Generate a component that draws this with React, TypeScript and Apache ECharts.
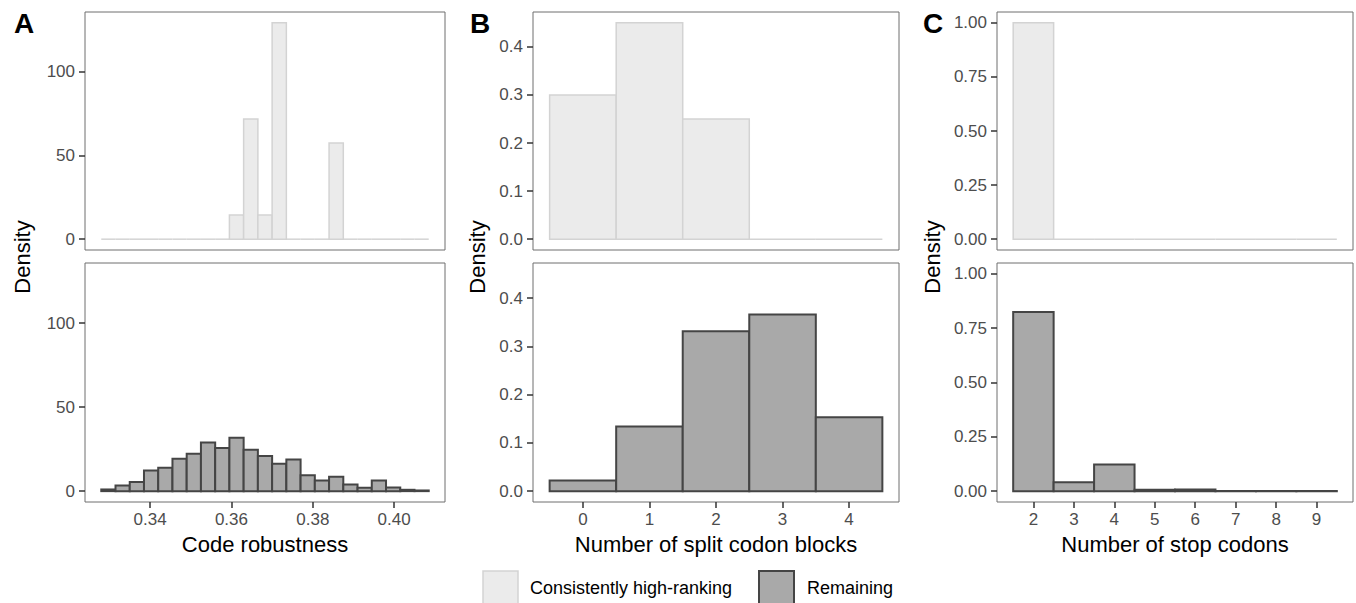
import React, { useEffect, useRef } from "react";
import * as echarts from "echarts";

// ---------- data ----------
// Panel A: code robustness histogram (bin centers, bin width 0.0035)
const robustBinWidth = 0.0035;
const robustCenters = [
  0.32975, 0.33325, 0.33675, 0.34025, 0.34375, 0.34725, 0.35075, 0.35425,
  0.35775, 0.36125, 0.36475, 0.36825, 0.37175, 0.37525, 0.37875, 0.38225,
  0.38575, 0.38925, 0.39275, 0.39625, 0.39975, 0.40325, 0.40675,
];
const robustHigh = [
  0, 0, 0, 0, 0, 0, 0, 0, 0, 14.4, 71.8, 14.4, 129.3, 0, 0, 0, 57.5, 0, 0, 0, 0, 0, 0,
];
const robustRemaining = [
  1.0, 3.4, 5.4, 12.3, 13.9, 19.3, 22.3, 29.0, 25.6, 31.8, 24.7, 20.9, 16.3, 18.9,
  9.5, 6.4, 8.5, 4.0, 2.0, 6.4, 2.2, 0.8, 0.4,
];
const robustTicks = [0.34, 0.36, 0.38, 0.4];
const robustYTicks = [0, 50, 100];

// Panel B: number of split codon blocks
const splitCats = [0, 1, 2, 3, 4];
const splitHigh = [0.3, 0.45, 0.25, 0, 0];
const splitRemaining = [0.022, 0.134, 0.331, 0.366, 0.153];
const splitYTicks = [0, 0.1, 0.2, 0.3, 0.4];

// Panel C: number of stop codons
const stopCats = [2, 3, 4, 5, 6, 7, 8, 9];
const stopHigh = [1.0, 0, 0, 0, 0, 0, 0, 0];
const stopRemaining = [0.825, 0.041, 0.123, 0.006, 0.007, 0.001, 0.001, 0.001];
const stopYTicks = [0, 0.25, 0.5, 0.75, 1.0];

const legendLabels = ["Consistently high-ranking", "Remaining"];
const xTitles = ["Code robustness", "Number of split codon blocks", "Number of stop codons"];

// ---------- styles ----------
const FONT = "'Liberation Sans', Arial, Helvetica, sans-serif";
const HIGH_FILL = "#EBEBEB";
const HIGH_STROKE = "#D3D3D3";
const REM_FILL = "#A9A9A9";
const REM_STROKE = "#454545";
const BORDER = "#6E6E6E";
const TICK = "#333333";
const TICK_TEXT = "#4D4D4D";

function renderHist(binWidth: number, fill: string, stroke: string, lw: number) {
  return (params: any, api: any) => {
    const c = api.value(0);
    const v = api.value(1);
    const p0 = api.coord([c - binWidth / 2, v]);
    const p1 = api.coord([c + binWidth / 2, 0]);
    if (!(v > 0)) {
      return {
        type: "line",
        shape: { x1: p0[0], y1: p1[1], x2: p1[0], y2: p1[1] },
        style: { stroke, lineWidth: lw },
      };
    }
    return {
      type: "rect",
      shape: { x: p0[0], y: p0[1], width: p1[0] - p0[0], height: p1[1] - p0[1] },
      style: { fill, stroke, lineWidth: lw },
    };
  };
}

export default function App() {
  const ref = useRef<HTMLDivElement>(null);

  useEffect(() => {
    if (!ref.current) return;
    const chart = echarts.init(ref.current, null, { renderer: "svg" });

    const cols = [
      { left: 85, width: 360 },
      { left: 533, width: 366 },
      { left: 997, width: 356 },
    ];
    const rows = [
      { top: 12, height: 238 },
      { top: 263, height: 239 },
    ];
    const grids: any[] = [];
    cols.forEach((c) =>
      rows.forEach((r) =>
        grids.push({
          left: c.left,
          width: c.width,
          top: r.top,
          height: r.height,
          show: true,
          borderColor: BORDER,
          borderWidth: 1,
          backgroundColor: "transparent",
          containLabel: false,
          outerBoundsMode: "none",
        })
      )
    );

    const xRanges = [
      [0.324, 0.4125],
      [-0.75, 4.75],
      [1.1, 9.9],
    ];
    const yRanges = [
      [-6.465, 135.77],
      [-0.0225, 0.4725],
      [-0.05, 1.05],
    ];
    const xTickVals = [robustTicks, splitCats, stopCats];
    const yTickVals = [robustYTicks, splitYTicks, stopYTicks];
    const xFmt = [
      (v: number) => v.toFixed(2),
      (v: number) => String(v),
      (v: number) => String(v),
    ];
    const yFmt = [
      (v: number) => String(v),
      (v: number) => v.toFixed(1),
      (v: number) => v.toFixed(2),
    ];

    const xAxes: any[] = [];
    const yAxes: any[] = [];
    for (let p = 0; p < 3; p++) {
      for (let r = 0; r < 2; r++) {
        const gi = p * 2 + r;
        const bottom = r === 1;
        xAxes.push({
          type: "value",
          gridIndex: gi,
          position: "bottom",
          min: xRanges[p][0],
          max: xRanges[p][1],
          axisLine: { show: true, onZero: false, lineStyle: { color: "rgba(0,0,0,0)" } },
          splitLine: { show: false },
          axisTick: {
            show: bottom,
            inside: false,
            length: 6,
            lineStyle: { color: TICK, width: 1.5 },
            customValues: xTickVals[p],
          },
          axisLabel: {
            show: bottom,
            margin: 9,
            color: TICK_TEXT,
            fontSize: 17,
            fontFamily: FONT,
            customValues: xTickVals[p],
            formatter: xFmt[p],
          },
        });
        yAxes.push({
          type: "value",
          gridIndex: gi,
          position: "left",
          min: yRanges[p][0],
          max: yRanges[p][1],
          axisLine: { show: true, onZero: false, lineStyle: { color: "rgba(0,0,0,0)" } },
          splitLine: { show: false },
          axisTick: {
            show: true,
            inside: false,
            length: 6,
            lineStyle: { color: TICK, width: 1.5 },
            customValues: yTickVals[p],
          },
          axisLabel: {
            show: true,
            margin: 10,
            color: TICK_TEXT,
            fontSize: 17,
            fontFamily: FONT,
            customValues: yTickVals[p],
            formatter: yFmt[p],
          },
        });
      }
    }

    const panelData = [
      { centers: robustCenters, w: robustBinWidth, high: robustHigh, rem: robustRemaining },
      { centers: splitCats, w: 1, high: splitHigh, rem: splitRemaining },
      { centers: stopCats, w: 1, high: stopHigh, rem: stopRemaining },
    ];
    const series: any[] = [];
    panelData.forEach((pd, p) => {
      series.push({
        type: "custom",
        name: legendLabels[0],
        xAxisIndex: p * 2,
        yAxisIndex: p * 2,
        renderItem: renderHist(pd.w, HIGH_FILL, HIGH_STROKE, 1.5),
        encode: { x: 0, y: 1 },
        data: pd.centers.map((c, i) => [c, pd.high[i]]),
        silent: true,
      });
      series.push({
        type: "custom",
        name: legendLabels[1],
        xAxisIndex: p * 2 + 1,
        yAxisIndex: p * 2 + 1,
        renderItem: renderHist(pd.w, REM_FILL, REM_STROKE, 2),
        encode: { x: 0, y: 1 },
        data: pd.centers.map((c, i) => [c, pd.rem[i]]),
        silent: true,
      });
    });

    const graphic: any[] = [];
    const letters = [
      { t: "A", x: 14 },
      { t: "B", x: 470 },
      { t: "C", x: 923 },
    ];
    letters.forEach((l) =>
      graphic.push({
        type: "text",
        x: l.x,
        y: 23,
        style: {
          text: l.t,
          font: `bold 28px ${FONT}`,
          fill: "#000",
          textAlign: "left",
          textVerticalAlign: "middle",
        },
      })
    );
    [22, 477, 932].forEach((x) =>
      graphic.push({
        type: "text",
        x,
        y: 257,
        rotation: Math.PI / 2,
        style: {
          text: "Density",
          font: `22px ${FONT}`,
          fill: "#000",
          textAlign: "center",
          textVerticalAlign: "middle",
        },
      })
    );
    cols.forEach((c, i) =>
      graphic.push({
        type: "text",
        x: c.left + c.width / 2,
        y: 544,
        style: {
          text: xTitles[i],
          font: `22px ${FONT}`,
          fill: "#000",
          textAlign: "center",
          textVerticalAlign: "middle",
        },
      })
    );
    // legend
    graphic.push({
      type: "rect",
      shape: { x: 483, y: 571, width: 35, height: 35 },
      style: { fill: HIGH_FILL, stroke: HIGH_STROKE, lineWidth: 1.5 },
    });
    graphic.push({
      type: "text",
      x: 530,
      y: 588,
      style: {
        text: legendLabels[0],
        font: `18px ${FONT}`,
        fill: "#000",
        textAlign: "left",
        textVerticalAlign: "middle",
      },
    });
    graphic.push({
      type: "rect",
      shape: { x: 759, y: 571, width: 35, height: 35 },
      style: { fill: REM_FILL, stroke: REM_STROKE, lineWidth: 2 },
    });
    graphic.push({
      type: "text",
      x: 807,
      y: 588,
      style: {
        text: legendLabels[1],
        font: `18px ${FONT}`,
        fill: "#000",
        textAlign: "left",
        textVerticalAlign: "middle",
      },
    });

    chart.setOption({
      animation: false,
      backgroundColor: "#ffffff",
      textStyle: { fontFamily: FONT },
      grid: grids,
      xAxis: xAxes,
      yAxis: yAxes,
      series,
      graphic,
    });

    return () => chart.dispose();
  }, []);

  return (
    <div
      ref={ref}
      style={{ position: "absolute", left: 0, top: 0, width: 1356, height: 603, background: "#fff" }}
    />
  );
}
